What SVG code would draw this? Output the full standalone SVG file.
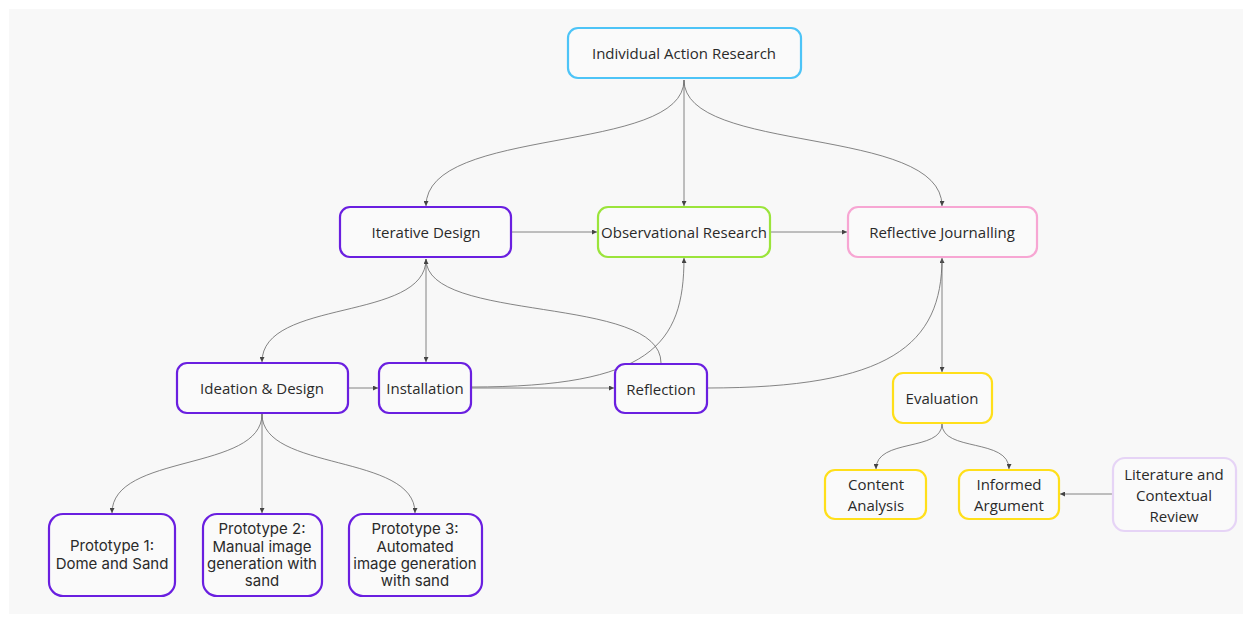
<svg xmlns="http://www.w3.org/2000/svg" width="1252" height="622" viewBox="0 0 1252 622">
<style>
.n{fill:#fafafa;stroke-width:2.2}
.p{stroke:#6a1fe0}
.b{stroke:#4dc4f7}
.g{stroke:#9be43b}
.k{stroke:#f7a6d3}
.y{stroke:#ffdf1a}
.l{stroke:#e6d4f6}
.t{font-family:"Open Sans","Noto Sans",sans-serif;font-size:15px;fill:#2a2a2a;text-anchor:middle}
.q{font-family:Inter,"Noto Sans",sans-serif;font-size:15px;fill:#2a2a2a;text-anchor:middle}
.c{fill:none;stroke:#666;stroke-width:0.8}
</style>
<defs>
<marker id="a" viewBox="0 0 6 6" refX="6" refY="3" markerWidth="5" markerHeight="5" orient="auto" markerUnits="userSpaceOnUse">
<path d="M0,0L6,3L0,6z" fill="#444"/>
</marker>
</defs>
<rect x="9" y="9" width="1234" height="605" fill="#f8f8f8"/>
<g id="connectors">
<path class="c" d="M684,80 C684,155 426,125 426,206" marker-end="url(#a)"/>
<path class="c" d="M684,80 L684,206" marker-end="url(#a)"/>
<path class="c" d="M684,80 C684,155 942,125 942,206" marker-end="url(#a)"/>
<path class="c" d="M511,232 L597,232" marker-end="url(#a)"/>
<path class="c" d="M770,232 L847,232" marker-end="url(#a)"/>
<path class="c" d="M426,259 C426,322 262,298 262,362" marker-end="url(#a)"/>
<path class="c" d="M426,259 L426,362" marker-end="url(#a)"/>
<path class="c" d="M661,363 C661,294 426,324 426,259" marker-end="url(#a)"/>
<path class="c" d="M348,388 L378,388" marker-end="url(#a)"/>
<path class="c" d="M471,388 L614,388" marker-end="url(#a)"/>
<path class="c" d="M471,387 C650,387 684,345 684,258" marker-end="url(#a)"/>
<path class="c" d="M707,388 C890,388 942,345 942,258" marker-end="url(#a)"/>
<path class="c" d="M942,259 L942,372" marker-end="url(#a)"/>
<path class="c" d="M942,424 C942,452 876,438 876,469" marker-end="url(#a)"/>
<path class="c" d="M942,424 C942,452 1009,438 1009,469" marker-end="url(#a)"/>
<path class="c" d="M1113,494 L1060,494" marker-end="url(#a)"/>
<path class="c" d="M262,414 C262,472 112,453 112,513" marker-end="url(#a)"/>
<path class="c" d="M262,414 L262,513" marker-end="url(#a)"/>
<path class="c" d="M262,414 C262,472 415,453 415,513" marker-end="url(#a)"/>
</g>
<g id="individual-action-research">
<rect class="n b" x="568" y="28" width="233" height="50" rx="10"/>
<text class="t" x="684" y="59">Individual Action Research</text>
</g>
<g id="iterative-design">
<rect class="n p" x="340" y="207" width="171" height="50" rx="10"/>
<text class="t" x="426" y="238">Iterative Design</text>
</g>
<g id="observational-research">
<rect class="n g" x="598" y="207" width="172" height="50" rx="10"/>
<text class="t" x="684" y="238">Observational Research</text>
</g>
<g id="reflective-journalling">
<rect class="n k" x="848" y="207" width="189" height="50" rx="10"/>
<text class="t" x="942" y="238">Reflective Journalling</text>
</g>
<g id="ideation-design">
<rect class="n p" x="177" y="363" width="171" height="50" rx="10"/>
<text class="t" x="262" y="394">Ideation &amp; Design</text>
</g>
<g id="installation">
<rect class="n p" x="379" y="363" width="92" height="50" rx="10"/>
<text class="t" x="425" y="394">Installation</text>
</g>
<g id="reflection">
<rect class="n p" x="615" y="364" width="92" height="49" rx="10"/>
<text class="t" x="661" y="395">Reflection</text>
</g>
<g id="evaluation">
<rect class="n y" x="893" y="373" width="99" height="50" rx="10"/>
<text class="t" x="942" y="404">Evaluation</text>
</g>
<g id="content-analysis">
<rect class="n y" x="825" y="470" width="101" height="49" rx="10"/>
<text class="t" x="876" y="490">Content</text>
<text class="t" x="876" y="511">Analysis</text>
</g>
<g id="informed-argument">
<rect class="n y" x="959" y="470" width="100" height="49" rx="10"/>
<text class="t" x="1009" y="490">Informed</text>
<text class="t" x="1009" y="511">Argument</text>
</g>
<g id="literature-review">
<rect class="n l" x="1113" y="458" width="123" height="73" rx="12"/>
<text class="t" x="1174" y="480">Literature and</text>
<text class="t" x="1174" y="501">Contextual</text>
<text class="t" x="1174" y="522">Review</text>
</g>
<g id="prototype-1">
<rect class="n p" x="49" y="514" width="126" height="82" rx="14"/>
<text class="q" x="112" y="551">Prototype 1:</text>
<text class="q" x="112" y="569">Dome and Sand</text>
</g>
<g id="prototype-2">
<rect class="n p" x="203" y="514" width="119" height="82" rx="14"/>
<text class="q" x="262" y="534">Prototype 2:</text>
<text class="q" x="262" y="552">Manual image</text>
<text class="q" x="262" y="569">generation with</text>
<text class="q" x="262" y="586">sand</text>
</g>
<g id="prototype-3">
<rect class="n p" x="349" y="514" width="133" height="82" rx="14"/>
<text class="q" x="415" y="534">Prototype 3:</text>
<text class="q" x="415" y="552">Automated</text>
<text class="q" x="415" y="569">image generation</text>
<text class="q" x="415" y="586">with sand</text>
</g>
</svg>
